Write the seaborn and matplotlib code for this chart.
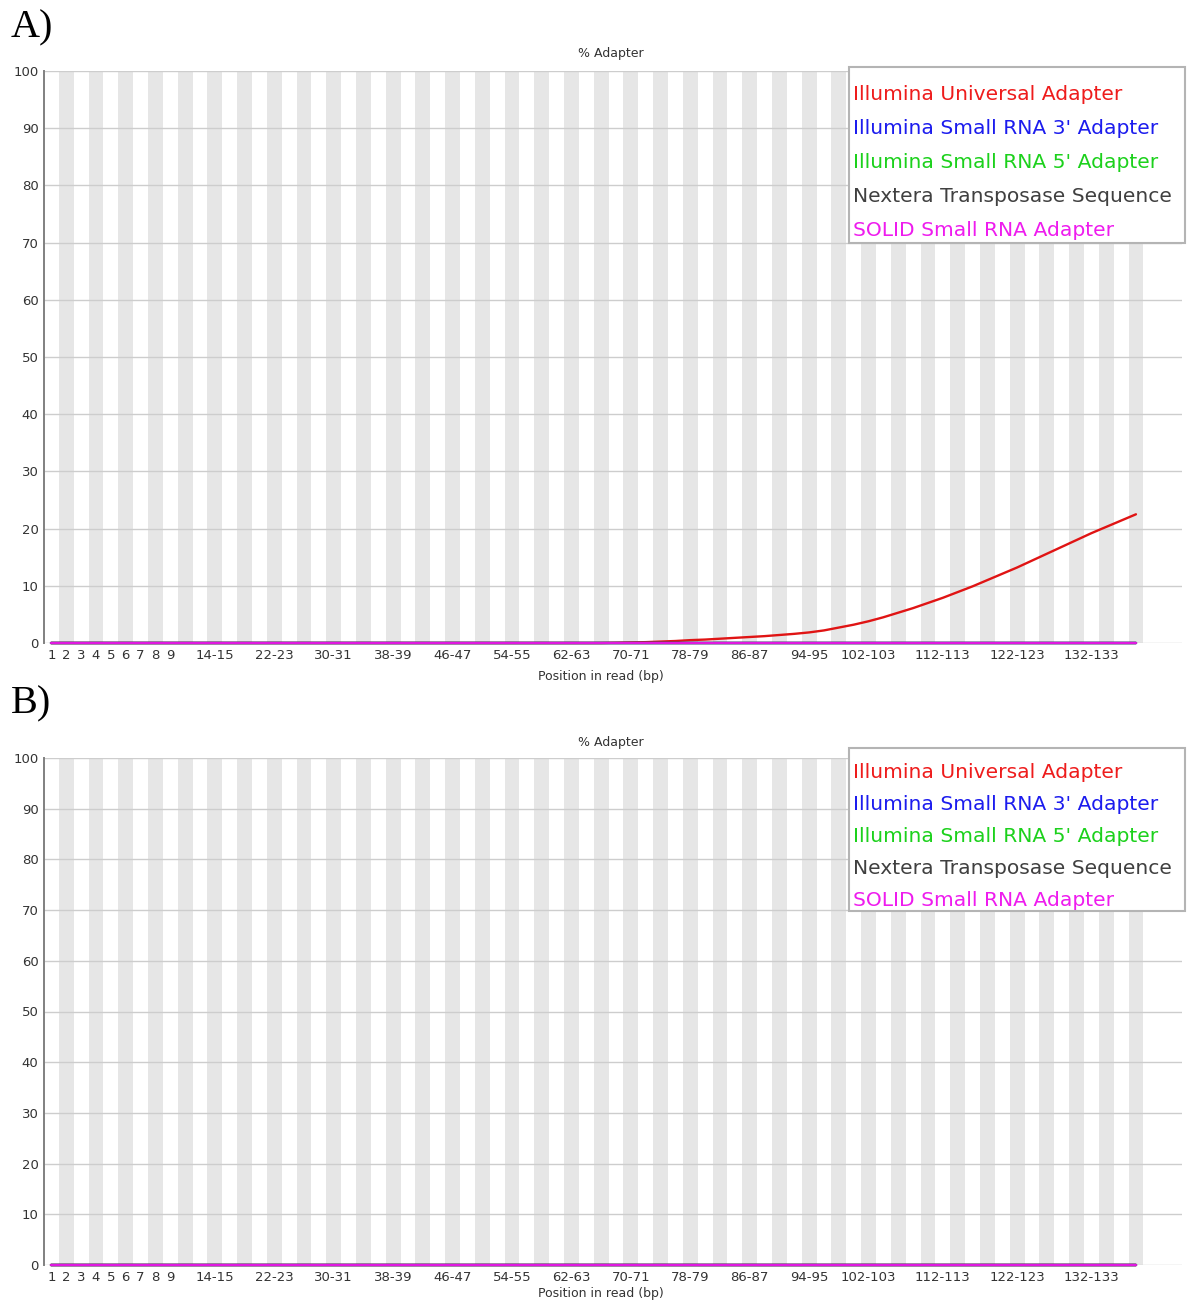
import numpy as np
import pandas as pd
import matplotlib
matplotlib.use("Agg")
import matplotlib.pyplot as plt
from matplotlib.patches import Rectangle
import seaborn as sns

sns.set_theme(style="white")
plt.rcParams['font.family'] = ['DejaVu Sans']

# ---------------- data ----------------
positions = ["1", "2", "3", "4", "5", "6", "7", "8", "9",
             "10-11", "12-13", "14-15", "16-17", "18-19", "20-21", "22-23", "24-25",
             "26-27", "28-29", "30-31", "32-33", "34-35", "36-37", "38-39", "40-41",
             "42-43", "44-45", "46-47", "48-49", "50-51", "52-53", "54-55", "56-57",
             "58-59", "60-61", "62-63", "64-65", "66-67", "68-69", "70-71", "72-73",
             "74-75", "76-77", "78-79", "80-81", "82-83", "84-85", "86-87", "88-89",
             "90-91", "92-93", "94-95", "96-97", "98-99", "100-101", "102-103", "104-105",
             "106-107", "108-109", "110-111", "112-113", "114-115", "116-117", "118-119",
             "120-121", "122-123", "124-125", "126-127", "128-129", "130-131", "132-133",
             "134-135", "136-137", "138-139"]

shown_labels = ["1", "2", "3", "4", "5", "6", "7", "8", "9", "14-15", "22-23", "30-31",
                "38-39", "46-47", "54-55", "62-63", "70-71", "78-79", "86-87", "94-95",
                "102-103", "112-113", "122-123", "132-133"]

adapters = ["Illumina Universal Adapter", "Illumina Small RNA 3' Adapter",
            "Illumina Small RNA 5' Adapter", "Nextera Transposase Sequence",
            "SOLID Small RNA Adapter"]
legend_colors = ["#ee1c1c", "#1c1cee", "#1cd11c", "#404040", "#ee1cee"]
line_colors = ["#e01414", "#1414e0", "#14c814", "#303030", "#e018e0"]

# Panel A values (% adapter)
universal_A = [0.0] * 38 + [0.05, 0.1, 0.15, 0.25, 0.35, 0.5, 0.6, 0.75, 0.9, 1.05,
                            1.2, 1.4, 1.6, 1.85, 2.2, 2.7, 3.2, 3.8, 4.5, 5.3,
                            6.1, 7.0, 7.9, 8.9, 9.9, 11.0, 12.1, 13.2, 14.4, 15.6,
                            16.8, 18.0, 19.2, 20.3, 21.4, 22.5]
smallrna3_A = [0.0] * 74
smallrna5_A = [0.0] * 74
nextera_A = [0.0] * 74
solid_A = [0.0] * 74

# Panel B values (% adapter)
universal_B = [0.0] * 74
smallrna3_B = [0.0] * 74
smallrna5_B = [0.0] * 74
nextera_B = [0.0] * 74
solid_B = [0.0] * 74

panels = [
    ("A)", [universal_A, smallrna3_A, smallrna5_A, nextera_A, solid_A]),
    ("B)", [universal_B, smallrna3_B, smallrna5_B, nextera_B, solid_B]),
]

W, H = 1187, 1302
fig = plt.figure(figsize=(W / 100, H / 100), dpi=100)

def fx(px):
    return px / W

def fy(py):
    return 1 - py / H

layout = [
    dict(top=71, bottom=643, title_y=54, xlabel_y=676, letter_y=37,
         box=(849, 67, 1185, 243), baselines=[99.5, 134, 168, 202, 236.5]),
    dict(top=758, bottom=1265, title_y=743, xlabel_y=1293, letter_y=713,
         box=(849, 748, 1185, 911), baselines=[778, 810, 842, 874, 906]),
]

n = len(positions)
for (letter, series), lay in zip(panels, layout):
    ax = fig.add_axes([fx(44), fy(lay["bottom"]), fx(1182 - 44),
                       (lay["bottom"] - lay["top"]) / H])
    # alternating grey bands
    for i in range(n):
        if i % 2 == 1:
            ax.axvspan(i - 0.5, i + 0.5, color="#e6e6e6", lw=0, zorder=0.2)
    # horizontal gridlines
    for yv in range(0, 101, 10):
        ax.axhline(yv, color="#cdcdcd", lw=1.0, zorder=0.5)

    df = pd.concat([
        pd.DataFrame({"pos": np.arange(n), "value": vals, "adapter": name})
        for name, vals in zip(adapters, series)
    ], ignore_index=True)
    sns.lineplot(data=df, x="pos", y="value", hue="adapter", hue_order=adapters,
                 palette=line_colors, linewidth=1.7, legend=False, ax=ax,
                 clip_on=False, zorder=3)

    ax.set_xlim(-0.5, 76.1)
    ax.set_ylim(0, 100)
    ax.set_yticks(range(0, 101, 10))
    ax.set_yticklabels([str(v) for v in range(0, 101, 10)])
    tick_pos = [positions.index(lbl) for lbl in shown_labels]
    ax.set_xticks(tick_pos)
    ax.set_xticklabels(shown_labels)
    ax.tick_params(axis="both", length=0, labelsize=9.5, colors="#333333")
    ax.tick_params(axis="x", pad=4)
    ax.tick_params(axis="y", pad=4)
    ax.set_xlabel("")
    ax.set_ylabel("")
    for s in ["top", "right", "bottom"]:
        ax.spines[s].set_visible(False)
    ax.spines["left"].set_color("#808080")
    ax.spines["left"].set_linewidth(1.4)

    fig.text(fx(611), fy(lay["title_y"]), "% Adapter", ha="center", va="center",
             fontsize=9, color="#333333")
    fig.text(fx(601), fy(lay["xlabel_y"]), "Position in read (bp)", ha="center",
             va="center", fontsize=9, color="#333333")

    fig.text(fx(11), fy(lay["letter_y"]), letter, ha="left", va="baseline",
             fontsize=29, family="Liberation Serif", color="black")

    x0, y0, x1, y1 = lay["box"]
    fig.patches.append(Rectangle((fx(x0), fy(y1)), fx(x1 - x0), (y1 - y0) / H,
                                 transform=fig.transFigure, facecolor="white",
                                 edgecolor="#b4b4b4", lw=1.5, zorder=5))
    for name, col, by in zip(adapters, legend_colors, lay["baselines"]):
        fig.text(fx(853), fy(by), name, ha="left", va="baseline", fontsize=14.6,
                 color=col, zorder=6)

fig.savefig("out.png", dpi=100)
